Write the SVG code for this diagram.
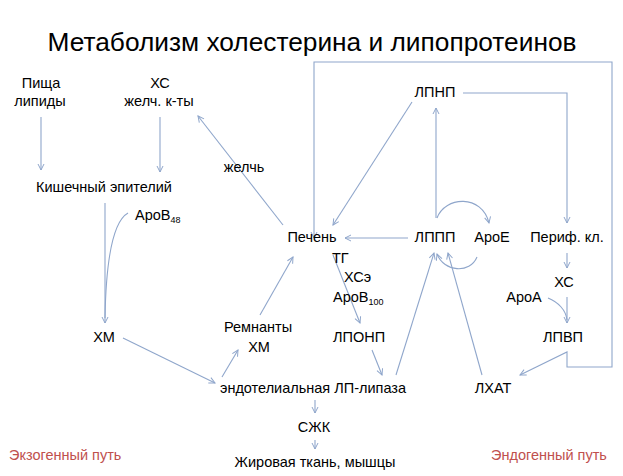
<svg xmlns="http://www.w3.org/2000/svg" width="623" height="476" viewBox="0 0 623 476">
<defs>
<marker id="ah" viewBox="0 0 8 8" refX="7" refY="4" markerWidth="8" markerHeight="8" markerUnits="userSpaceOnUse" orient="auto-start-reverse">
<path d="M1,1 L7,4 L1,7" fill="none" stroke="#8FA6CB" stroke-width="1"/>
</marker>
<style>
.t{font-family:"Liberation Sans",Arial,sans-serif;font-size:14.5px;fill:#000}
.m{text-anchor:middle}
.r{fill:#C0504D}
.s{font-size:9px}
.c line,.c path,.c polyline{fill:none;stroke:#8FA6CB;stroke-width:1.1}
.a{marker-end:url(#ah)}
</style>
</defs>
<rect width="623" height="476" fill="#fff"/>
<text class="t m" x="312" y="51" style="font-size:25px" textLength="529" lengthAdjust="spacingAndGlyphs">Метаболизм холестерина и липопротеинов</text>

<g class="c" id="connectors">
<line class="a" x1="41" y1="117" x2="41" y2="170"/>
<line class="a" x1="160" y1="117" x2="160" y2="172"/>
<line class="a" x1="283" y1="225" x2="198" y2="116"/>
<line class="a" x1="105" y1="203" x2="105" y2="323"/>
<path d="M128,213 C112,222 106,262 105,318"/>
<line class="a" x1="123" y1="338" x2="215" y2="383"/>
<line class="a" x1="222" y1="377" x2="238" y2="350"/>
<line class="a" x1="260" y1="315" x2="293" y2="257"/>
<line class="a" x1="408" y1="238" x2="345" y2="238"/>
<line class="a" x1="412" y1="102" x2="333" y2="225"/>
<line class="a" x1="436" y1="218" x2="436" y2="108"/>
<path class="a" d="M437,218 C445,196 482,194 489,223"/>
<path class="a" d="M477,257 C470,274 444,272 437,254"/>
<line class="a" x1="396" y1="375" x2="434" y2="253"/>
<line class="a" x1="482" y1="375" x2="448" y2="253"/>
<line class="a" x1="333" y1="255" x2="360" y2="323"/>
<line class="a" x1="372" y1="350" x2="382" y2="375"/>
<polyline class="a" points="463,93 567,93 567,223"/>
<line class="a" x1="567" y1="253" x2="567" y2="268"/>
<line class="a" x1="567" y1="297" x2="567" y2="323"/>
<path d="M548,298 C558,302 566,310 567,320"/>
<polyline class="a" style="marker-start:url(#ah)" points="520,375 567,352 567,367 612,367 612,62 314,62 314,238"/>
<line class="a" x1="315" y1="400" x2="315" y2="413"/>
<line class="a" x1="315" y1="440" x2="315" y2="449"/>
</g>

<g id="pishcha"><text class="t m" x="41" y="88">Пища</text><text class="t m" x="40" y="106">липиды</text></g>
<g id="xs-zhelch"><text class="t m" x="160" y="88">ХС</text><text class="t m" x="159" y="106">желч. к-ты</text></g>
<g id="zhelch"><text class="t m" x="244" y="172">желчь</text></g>
<g id="kishechny"><text class="t m" x="104" y="192">Кишечный эпителий</text></g>
<g id="apob48"><text class="t" x="135" y="220">АроВ<tspan class="s" dy="3">48</tspan></text></g>
<g id="xm"><text class="t m" x="104" y="342">ХМ</text></g>
<g id="remnanty"><text class="t m" x="258" y="332">Ремнанты</text><text class="t m" x="259" y="352">ХМ</text></g>
<g id="pechen"><text class="t m" x="312" y="242">Печень</text></g>
<g id="lpnp"><text class="t m" x="435" y="97">ЛПНП</text></g>
<g id="lppp"><text class="t m" x="435" y="242">ЛППП</text></g>
<g id="apoe"><text class="t m" x="492" y="242">АроЕ</text></g>
<g id="perif"><text class="t m" x="567" y="242">Периф. кл.</text></g>
<g id="tg"><text class="t" x="332" y="263">ТГ</text><text class="t" x="344" y="282">ХСэ</text><text class="t" x="333" y="302">АроВ<tspan class="s" dy="3">100</tspan></text></g>
<g id="lponp"><text class="t m" x="359" y="342">ЛПОНП</text></g>
<g id="xs-right"><text class="t m" x="564" y="287">ХС</text></g>
<g id="apoa"><text class="t m" x="524" y="302">АроА</text></g>
<g id="lpvp"><text class="t m" x="563" y="342">ЛПВП</text></g>
<g id="lipaza"><text class="t" x="220" y="393" textLength="186" lengthAdjust="spacingAndGlyphs">эндотелиальная ЛП-липаза</text></g>
<g id="lxat"><text class="t m" x="493" y="393">ЛХАТ</text></g>
<g id="szhk"><text class="t m" x="314" y="432">СЖК</text></g>
<g id="zhir"><text class="t m" x="315" y="467">Жировая ткань, мышцы</text></g>
<g id="exo"><text class="t r" x="9" y="460">Экзогенный путь</text></g>
<g id="endo"><text class="t r" x="491" y="460">Эндогенный путь</text></g>
</svg>
